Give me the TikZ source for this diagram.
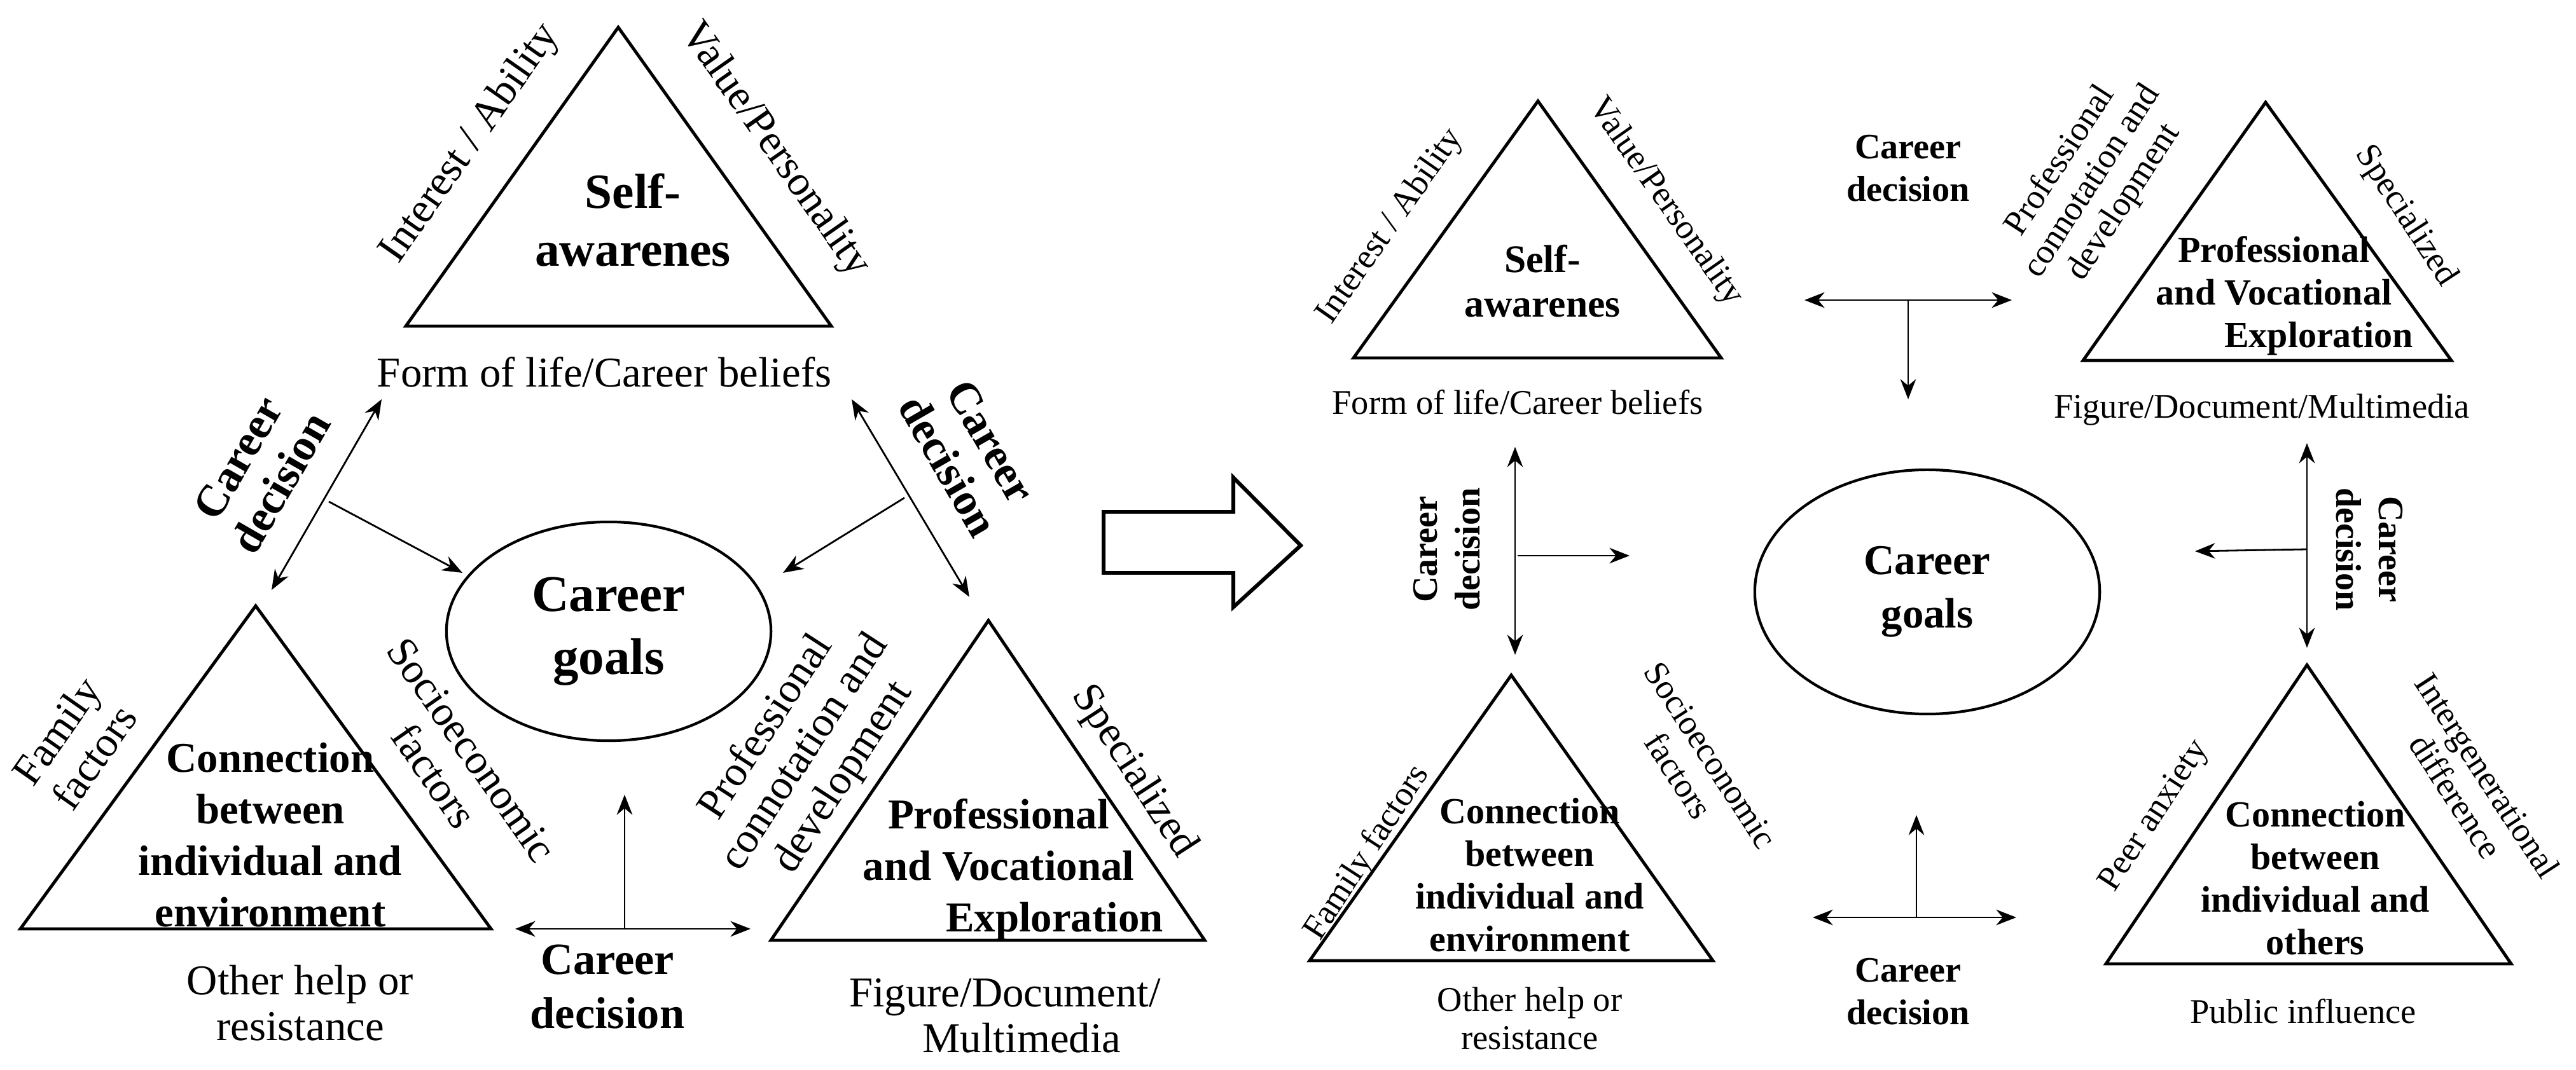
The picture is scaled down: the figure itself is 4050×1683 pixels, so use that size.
\documentclass[tikz,border=0pt]{standalone}
\usepackage{fontspec}
\setmainfont{Liberation Serif}
\usetikzlibrary{arrows.meta,shapes.geometric}
\begin{document}
\begin{tikzpicture}[x=0.01cm,y=-0.01cm,
  tri/.style={line width=1.4pt,line join=miter},
  arr/.style={line width=0.8pt,-{Stealth[length=9pt,width=7pt]}},
  darr/.style={line width=0.8pt,{Stealth[length=9pt,width=7pt]}-{Stealth[length=9pt,width=7pt]}},
  tL/.style={font=\fontsize{19}{20.5}\selectfont,align=center,inner sep=0pt},
  bL/.style={font=\fontsize{20}{23}\selectfont\bfseries,align=center,inner sep=0pt},
  tR/.style={font=\fontsize{15.5}{17}\selectfont,align=center,inner sep=0pt},
  bR/.style={font=\fontsize{17.5}{20}\selectfont\bfseries,align=center,inner sep=0pt},
  cd/.style={font=\fontsize{16}{19}\selectfont\bfseries,align=center,inner sep=0pt},
  goal/.style={draw,ellipse,line width=1.2pt,inner sep=0pt}]
\useasboundingbox (0,0) rectangle (4050,1683);
% ===== LEFT =====
\draw[tri] (972,43) coordinate(A1) -- (1307,513) -- (638,513) -- cycle;
\node[bL,font=\fontsize{22}{26}\selectfont\bfseries] (sa) at (995,346) {Self-\\awarenes};
\node[tL,rotate=55] (ia) at (740,226) {Interest / Ability};
\node[tL,rotate=-55] (vp) at (1218,236) {Value/Personality};
\node[tL] (fl) at (950,585) {Form of life/Career beliefs};
\node[goal,minimum width=5.1cm,minimum height=3.44cm] (cg) at (957,993) {};
\node[bL,font=\fontsize{23}{28}\selectfont\bfseries] at (957,993) {Career\\goals};
\draw[tri] (402,953) -- (772,1461) -- (32,1461) -- cycle;
\node[bL,font=\fontsize{19}{23}\selectfont\bfseries] (ce) at (425,1313) {Connection\\between\\individual and\\environment};
\node[tL,rotate=55] (ff) at (118,1170) {Family\\factors};
\node[tL,rotate=-55] (sf) at (712,1200) {Socioeconomic\\factors};
\node[tL] (oh) at (472,1578) {Other help or\\resistance};
\draw[tri] (1554,976) -- (1894,1479) -- (1212,1479) -- cycle;
\node[bL,font=\fontsize{19}{23}\selectfont\bfseries] (pv) at (1570,1368) {Professional\\and Vocational\\\hspace*{50pt}Exploration};
\node[tL,rotate=57] (pc) at (1266,1184) {Professional\\connotation and\\development};
\node[tL,rotate=-57] (sp) at (1782,1214) {Specialized};
\node[tL] (fd) at (1580,1598) {Figure/Document/\\\hspace*{15pt}Multimedia};
% left arrows
\coordinate (l1) at (600,628); \coordinate (l2) at (427,928);
\coordinate (l3) at (517,789); \coordinate (l4) at (727,901);
\draw[darr] (l1) -- (l2); \draw[arr] (l3) -- (l4);
\node[cd,font=\fontsize{20}{22}\selectfont\bfseries,rotate=60] (cd1) at (408,740) {Career\\decision};
\coordinate (r1) at (1339,628); \coordinate (r2) at (1524,939);
\coordinate (r3) at (1422,783); \coordinate (r4) at (1231,901);
\draw[darr] (r1) -- (r2); \draw[arr] (r3) -- (r4);
\node[cd,font=\fontsize{20}{22}\selectfont\bfseries,rotate=-60] (cd2) at (1524,714) {Career\\decision};
\coordinate (b1) at (810,1461); \coordinate (b2) at (1180,1461);
\coordinate (b3) at (982,1461); \coordinate (b4) at (982,1250);
\draw[darr] (b1) -- (b2); \draw[arr] (b3) -- (b4);
\node[cd,font=\fontsize{20}{24}\selectfont\bfseries] (cd3) at (955,1552) {Career\\decision};
% hollow arrow
\draw[line width=1.7pt,line join=miter] (1735,805) -- (1939,805) -- (1939,751) -- (2045,858) -- (1939,955) -- (1939,901) -- (1735,901) -- cycle;
% ===== RIGHT =====
\draw[tri] (2418,159) -- (2706,563) -- (2128,563) -- cycle;
\node[bR] (sa2) at (2425,442) {Self-\\awarenes};
\node[tR,rotate=55] (ia2) at (2186,356) {Interest / Ability};
\node[tR,rotate=-55] (vp2) at (2618,318) {Value/Personality};
\node[tR] (fl2) at (2386,633) {Form of life/Career beliefs};
\node[cd] (cd4) at (3000,265) {Career\\decision};
\coordinate (h1) at (2837,472); \coordinate (h2) at (3163,472);
\coordinate (h3) at (3000,472); \coordinate (h4) at (3000,628);
\draw[darr] (h1) -- (h2); \draw[arr] (h3) -- (h4);
\draw[tri] (3562,161) -- (3854,567) -- (3275,567) -- cycle;
\node[bR,font=\fontsize{16.5}{19}\selectfont\bfseries] (pv2) at (3575,465) {Professional\\and Vocational\\\hspace*{40pt}Exploration};
\node[tR,rotate=57] (pc2) at (3290,286) {Professional\\connotation and\\development};
\node[tR,rotate=-57] (sp2) at (3782,340) {Specialized};
\node[tR] (fd2) at (3556,644) {Figure/Document/Multimedia};
\node[goal,minimum width=5.42cm,minimum height=3.84cm] (cg2) at (3030,931) {};
\node[bR,font=\fontsize{19}{24}\selectfont\bfseries] at (3030,931) {Career\\goals};
\coordinate (v1) at (2382,703); \coordinate (v2) at (2382,1030);
\coordinate (v3) at (2386,874); \coordinate (v4) at (2562,874);
\draw[darr] (v1) -- (v2); \draw[arr] (v3) -- (v4);
\node[cd,rotate=90] (cd5) at (2275,864) {Career\\decision};
\coordinate (w1) at (3627,697); \coordinate (w2) at (3627,1019);
\coordinate (w3) at (3627,864); \coordinate (w4) at (3451,867);
\draw[darr] (w1) -- (w2); \draw[arr] (w3) -- (w4);
\node[cd,rotate=-90] (cd6) at (3725,864) {Career\\decision};
\draw[tri] (2376,1062) -- (2693,1511) -- (2059,1511) -- cycle;
\node[bR,font=\fontsize{16.5}{19}\selectfont\bfseries] (ce2) at (2405,1376) {Connection\\between\\individual and\\environment};
\node[tR,rotate=57] (ff2) at (2150,1342) {Family factors};
\node[tR,rotate=-57] (sf2) at (2664,1204) {Socioeconomic\\factors};
\node[tR] (oh2) at (2405,1602) {Other help or\\resistance};
\coordinate (g1) at (2850,1443); \coordinate (g2) at (3170,1443);
\coordinate (g3) at (3013,1443); \coordinate (g4) at (3013,1282);
\draw[darr] (g1) -- (g2); \draw[arr] (g3) -- (g4);
\node[cd] (cd7) at (3000,1560) {Career\\decision};
\draw[tri] (3627,1046) -- (3948,1516) -- (3311,1516) -- cycle;
\node[bR,font=\fontsize{16.5}{19}\selectfont\bfseries] (co2) at (3640,1381) {Connection\\between\\individual and\\others};
\node[tR,rotate=57] (pa2) at (3388,1284) {Peer anxiety};
\node[tR,rotate=-57] (id2) at (3886,1236) {Intergenerational\\difference};
\node[tR] (pi2) at (3621,1591) {Public influence};
\end{tikzpicture}
\end{document}
